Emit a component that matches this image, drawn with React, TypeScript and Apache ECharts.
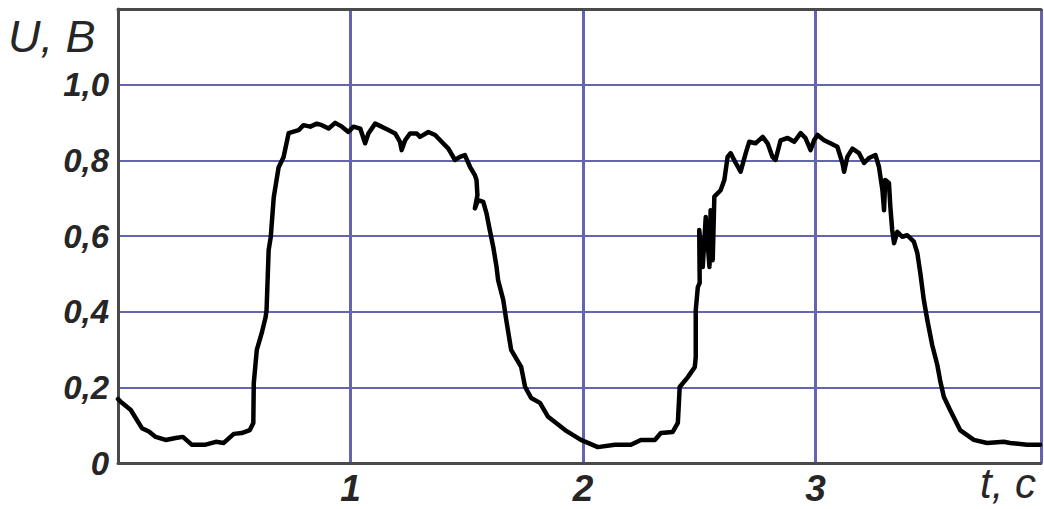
import React, { useEffect, useRef } from "react";
import * as echarts from "echarts";

const timeValues: number[] = [
  0.0, 0.017, 0.055, 0.076, 0.103, 0.133, 0.162, 0.205, 0.248, 0.279, 0.318, 0.373, 0.421, 0.455, 0.498, 0.532, 0.567,
  0.582, 0.584, 0.597, 0.618, 0.635, 0.639, 0.648, 0.657, 0.67, 0.691, 0.712, 0.734, 0.777, 0.798, 0.827, 0.855, 0.877,
  0.906, 0.934, 0.963, 0.991, 1.013, 1.042, 1.063, 1.077, 1.106, 1.134, 1.163, 1.192, 1.213, 1.22, 1.235, 1.256, 1.285,
  1.299, 1.335, 1.364, 1.392, 1.421, 1.449, 1.471, 1.492, 1.514, 1.535, 1.542, 1.546, 1.535, 1.549, 1.571, 1.585, 1.599,
  1.614, 1.628, 1.635, 1.657, 1.67, 1.691, 1.734, 1.751, 1.777, 1.815, 1.85, 1.923, 1.991, 2.064, 2.137, 2.206, 2.249,
  2.309, 2.335, 2.386, 2.408, 2.416, 2.451, 2.481, 2.485, 2.485, 2.494, 2.502, 2.5, 2.515, 2.528, 2.544, 2.549, 2.558,
  2.565, 2.592, 2.608, 2.622, 2.635, 2.657, 2.678, 2.7, 2.715, 2.742, 2.773, 2.794, 2.815, 2.828, 2.85, 2.88, 2.909,
  2.936, 2.957, 2.979, 2.994, 3.009, 3.037, 3.064, 3.094, 3.116, 3.123, 3.137, 3.159, 3.187, 3.209, 3.23, 3.258, 3.273,
  3.288, 3.295, 3.3, 3.316, 3.322, 3.33, 3.338, 3.352, 3.373, 3.395, 3.423, 3.438, 3.451, 3.466, 3.481, 3.502, 3.524,
  3.536, 3.552, 3.579, 3.622, 3.681, 3.738, 3.81, 3.837, 3.91, 3.966,
];

const voltageValues: number[] = [
  0.169, 0.159, 0.14, 0.119, 0.092, 0.083, 0.069, 0.061, 0.066, 0.069, 0.048, 0.048, 0.056, 0.053, 0.077, 0.079, 0.087,
  0.106, 0.211, 0.299, 0.343, 0.386, 0.404, 0.563, 0.597, 0.703, 0.782, 0.808, 0.872, 0.88, 0.893, 0.889, 0.897, 0.893,
  0.884, 0.899, 0.889, 0.875, 0.889, 0.884, 0.845, 0.871, 0.897, 0.889, 0.88, 0.871, 0.849, 0.827, 0.853, 0.871, 0.871,
  0.862, 0.875, 0.867, 0.849, 0.831, 0.801, 0.809, 0.814, 0.783, 0.761, 0.748, 0.708, 0.673, 0.695, 0.69, 0.66, 0.616,
  0.571, 0.519, 0.483, 0.431, 0.378, 0.299, 0.254, 0.201, 0.172, 0.159, 0.122, 0.087, 0.061, 0.042, 0.048, 0.048, 0.061,
  0.061, 0.079, 0.082, 0.106, 0.201, 0.227, 0.254, 0.28, 0.404, 0.465, 0.476, 0.616, 0.518, 0.65, 0.518, 0.668, 0.536,
  0.704, 0.721, 0.748, 0.809, 0.819, 0.793, 0.77, 0.819, 0.849, 0.845, 0.862, 0.845, 0.809, 0.801, 0.853, 0.859, 0.849,
  0.872, 0.859, 0.827, 0.853, 0.867, 0.853, 0.845, 0.836, 0.793, 0.77, 0.809, 0.831, 0.819, 0.793, 0.806, 0.814, 0.783,
  0.721, 0.668, 0.748, 0.74, 0.677, 0.616, 0.581, 0.611, 0.598, 0.602, 0.585, 0.555, 0.502, 0.431, 0.378, 0.312, 0.259,
  0.219, 0.175, 0.14, 0.087, 0.061, 0.053, 0.056, 0.053, 0.048, 0.048,
];

const yTickValues: number[] = [0, 0.2, 0.4, 0.6, 0.8, 1.0];
const xTickValues: number[] = [1, 2, 3];
const yAxisTitle = "U, B";
const xAxisTitle = "t, c";

const GRID_COLOR = "#6464b0";
const AXIS_COLOR = "#4a4a4a";
const TEXT_COLOR = "#262626";
const FONT = "'Liberation Sans', Arial, sans-serif";

export default function App() {
  const ref = useRef<HTMLDivElement>(null);

  useEffect(() => {
    if (!ref.current) return;
    const chart = echarts.init(ref.current, undefined, { renderer: "svg" });
    const data = timeValues.map((t, i) => [t, voltageValues[i]]);
    chart.setOption({
      animation: false,
      backgroundColor: "#ffffff",
      grid: { left: 118, right: 0, top: 9, bottom: 46, containLabel: false },
      xAxis: [
        {
          type: "value",
          min: 0,
          max: 3.97,
          interval: 1,
          position: "bottom",
          axisLine: { show: true, onZero: false, lineStyle: { color: AXIS_COLOR, width: 3 } },
          axisTick: { show: false },
          splitLine: { show: true, lineStyle: { color: GRID_COLOR, width: 3 } },
          axisLabel: {
            margin: 7,
            fontFamily: FONT,
            fontSize: 37,
            lineHeight: 36,
            fontWeight: "bold",
            fontStyle: "italic",
            color: TEXT_COLOR,
            formatter: (v: number) => (xTickValues.includes(v) ? String(v) : ""),
          },
        },
        {
          type: "value",
          min: 0,
          max: 3.97,
          position: "top",
          axisLine: { show: true, onZero: false, lineStyle: { color: AXIS_COLOR, width: 3 } },
          axisTick: { show: false },
          axisLabel: { show: false },
          splitLine: { show: false },
        },
      ],
      yAxis: {
        type: "value",
        min: 0,
        max: 1.2,
        interval: 0.2,
        axisLine: { show: true, onZero: false, lineStyle: { color: AXIS_COLOR, width: 3 } },
        axisTick: { show: false },
        splitLine: { show: true, lineStyle: { color: GRID_COLOR, width: 2 } },
        axisLabel: {
          margin: 9,
          fontFamily: FONT,
          fontSize: 33,
          fontWeight: "bold",
          fontStyle: "italic",
          color: TEXT_COLOR,
          formatter: (v: number) => {
            const match = yTickValues.find((y) => Math.abs(y - v) < 1e-6);
            if (match === undefined) return "";
            return match === 0 ? "0" : match.toFixed(1).replace(".", ",");
          },
        },
      },
      graphic: [
        {
          type: "text",
          left: 8,
          top: 14,
          style: {
            text: yAxisTitle,
            font: `italic 45px ${FONT}`,
            lineHeight: 44,
            fill: TEXT_COLOR,
          },
        },
        {
          type: "text",
          right: 8,
          top: 462,
          style: {
            text: xAxisTitle,
            font: `italic 42px ${FONT}`,
            lineHeight: 42,
            fill: TEXT_COLOR,
          },
        },
      ],
      series: [
        {
          type: "line",
          xAxisIndex: 0,
          data,
          showSymbol: false,
          symbol: "none",
          lineStyle: { color: "#000000", width: 4.5, join: "round", cap: "round" },
          clip: true,
        },
      ],
    });
    return () => chart.dispose();
  }, []);

  return (
    <div
      ref={ref}
      style={{ position: "fixed", left: 0, top: 0, width: 1044, height: 509, background: "#fff" }}
    />
  );
}
